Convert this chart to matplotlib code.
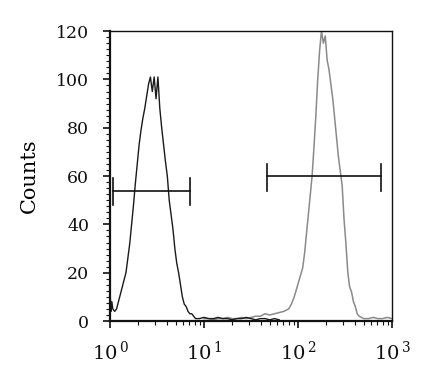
import numpy as np
import matplotlib
matplotlib.use('Agg')
from matplotlib import pyplot as plt
from matplotlib.ticker import MultipleLocator, FixedLocator, LogLocator, NullFormatter

plt.rcParams['mathtext.fontset'] = 'dejavuserif'
plt.rcParams['font.family'] = ['DejaVu Serif']
plt.rcParams['xtick.labelsize'] = 14
plt.rcParams['ytick.labelsize'] = 12.5

# black histogram (isotype control), log10 of fluorescence and counts
black_lx = [0.00, 0.01, 0.02, 0.03, 0.05, 0.07, 0.09, 0.11, 0.13, 0.15, 0.17, 0.19,
            0.21, 0.23, 0.25, 0.27, 0.29, 0.31, 0.33, 0.35, 0.37, 0.39, 0.41, 0.43,
            0.45, 0.47, 0.49, 0.51, 0.53, 0.55, 0.57, 0.59, 0.61, 0.63, 0.65, 0.67,
            0.69, 0.71, 0.73, 0.75, 0.77, 0.79, 0.81, 0.83, 0.85, 0.87, 0.89, 0.91,
            0.95, 1.00, 1.05, 1.10, 1.15, 1.20, 1.25, 1.30, 1.35, 1.40, 1.45, 1.50,
            1.55, 1.60, 1.65, 1.70, 1.75, 1.80]
black_counts = [13, 4, 8, 5, 4, 5, 8, 11, 14, 17, 20, 26,
                32, 40, 48, 57, 65, 73, 79, 84, 88, 93, 98, 101,
                95, 101, 92, 101, 88, 80, 73, 66, 60, 50, 44, 38,
                30, 24, 20, 15, 10, 7, 6, 4, 3, 3, 2, 1,
                1, 1.5, 1, 1, 1.5, 1, 1, 0.5, 1, 1, 1.5, 1,
                0.5, 1, 1, 0.5, 1, 0.5]

# gray histogram (stained sample)
gray_lx = [1.00, 1.05, 1.10, 1.15, 1.20, 1.25, 1.30, 1.35, 1.40, 1.45, 1.50, 1.55,
           1.60, 1.65, 1.70, 1.75, 1.80, 1.85, 1.90, 1.93, 1.96, 1.99, 2.02, 2.05,
           2.07, 2.09, 2.11, 2.13, 2.15, 2.17, 2.19, 2.21, 2.23, 2.25, 2.27, 2.29,
           2.31, 2.33, 2.35, 2.37, 2.39, 2.41, 2.43, 2.45, 2.47, 2.49, 2.51, 2.53,
           2.55, 2.57, 2.59, 2.61, 2.63, 2.65, 2.70, 2.75, 2.80, 2.85, 2.90, 2.95, 3.00]
gray_counts = [1, 1, 0.5, 1, 1, 1.5, 1, 1, 1.5, 1, 1.5, 2,
               2, 3, 2.5, 3, 3.5, 4, 5, 7, 10, 14, 18, 22,
               28, 36, 44, 52, 60, 72, 85, 100, 112, 120, 115, 118,
               108, 104, 98, 92, 84, 76, 68, 62, 56, 42, 32, 20,
               14, 12, 8, 6, 3, 2, 1, 1, 1.5, 1, 1, 1.5, 1]

# gate markers: (log10 start, log10 end, level)
gates_lx = [(0.03, 0.85), (1.67, 2.88)]
gates_y = [54, 60]
cap_half = 5

fig = plt.figure(figsize=(4.32, 3.84), dpi=100)
ax = fig.add_axes([0.2546, 0.164, 0.6528, 0.755])

ax.plot(10 ** np.array(gray_lx), gray_counts, color='#8a8a8a', lw=1.1)
ax.plot(10 ** np.array(black_lx), black_counts, color='#1a1a1a', lw=1.0)

for (a, b), yv in zip(gates_lx, gates_y):
    ax.plot([10 ** a, 10 ** b], [yv, yv], color='#111111', lw=1.2)
    for e in (a, b):
        ax.plot([10 ** e, 10 ** e], [yv - cap_half - 1, yv + cap_half], color='#111111', lw=1.2)

ax.set_xscale('log')
ax.set_xlim(1, 1000)
ax.set_ylim(0, 120)

ax.yaxis.set_major_locator(MultipleLocator(20))
ax.yaxis.set_minor_locator(MultipleLocator(2.5))
ax.xaxis.set_major_locator(FixedLocator([1, 10, 100, 1000]))
ax.xaxis.set_minor_locator(LogLocator(base=10, subs=np.arange(2, 10)))
ax.xaxis.set_minor_formatter(NullFormatter())

ax.tick_params(axis='both', which='major', direction='out', length=5, width=1.2, colors='#111111')
ax.tick_params(axis='both', which='minor', direction='out', length=3, width=0.8, colors='#111111')
ax.tick_params(axis='x', which='major', pad=9)
ax.tick_params(axis='y', which='major', pad=10)
ax.set_xticklabels([r'$10^{\,0}$', r'$10^{\,1}$', r'$10^{\,2}$', r'$10^{\,3}$'])

for s in ax.spines.values():
    s.set_linewidth(1.0)
    s.set_color('#111111')
ax.spines['left'].set_linewidth(1.6)
ax.spines['bottom'].set_linewidth(1.6)

ax.set_ylabel('Counts', fontsize=15, labelpad=12)

fig.savefig('out.png', dpi=100)
